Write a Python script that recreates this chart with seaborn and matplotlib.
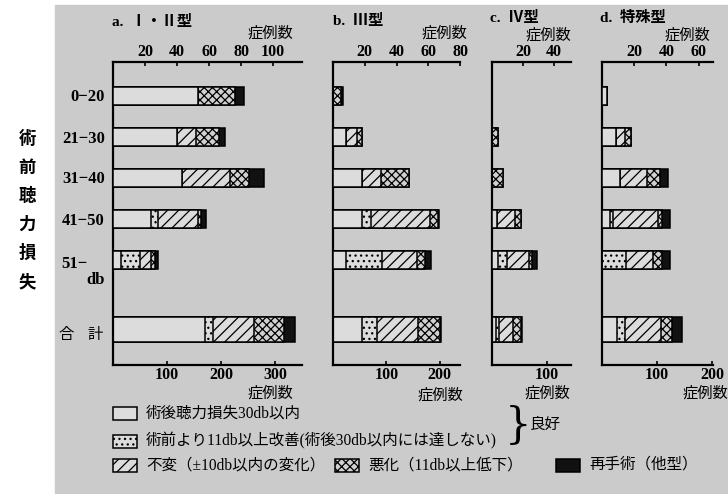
import matplotlib
matplotlib.use("Agg")
import numpy as np
import pandas as pd
import matplotlib.pyplot as plt
from matplotlib.patches import Rectangle
import seaborn as sns

# 術前聴力損失の区分 (上の目盛で描く) と 合計 (下の目盛で描く)
rows = ["0−20", "21−30", "31−40", "41−50", "51−"]
kinds = ["good", "improve", "same", "worse", "reop"]

# a. I・II型
a_good    = [53, 40, 43, 24, 5]
a_improve = [0, 0, 0, 4, 12]
a_same    = [0, 12, 30, 25, 7]
a_worse   = [23, 14, 12, 2, 2]
a_reop    = [6, 4, 9, 3, 2]
a_total   = [170, 15, 76, 56, 20]

# b. III型
b_good    = [0, 8, 18, 18, 8]
b_improve = [0, 0, 0, 6, 23]
b_same    = [0, 7, 12, 37, 22]
b_worse   = [5, 3, 18, 5, 5]
b_reop    = [1, 0, 0, 1, 4]
b_total   = [55, 28, 77, 40, 2]

# c. IV型
c_good    = [0, 0, 0, 3, 4]
c_improve = [0, 0, 0, 0, 6]
c_same    = [0, 0, 0, 12, 14]
c_worse   = [0, 4, 7, 4, 2]
c_reop    = [0, 0, 0, 0, 3]
c_total   = [7, 6, 25, 15, 2]

# d. 特殊型
d_good    = [3, 9, 11, 5, 0]
d_improve = [0, 0, 0, 2, 15]
d_same    = [0, 5, 17, 28, 17]
d_worse   = [0, 4, 8, 2, 5]
d_reop    = [0, 0, 5, 5, 5]
d_total   = [28, 13, 67, 19, 19]

titles = ["a.  Ⅰ・Ⅱ型", "b.  Ⅲ型", "c.  Ⅳ型", "d.  特殊型"]
top_ticks = [[20, 40, 60, 80, 100], [20, 40, 60, 80], [20, 40], [20, 40, 60]]
bottom_ticks = [[100, 200, 300], [100, 200], [100], [100, 200]]

panel_data = [
    ([a_good, a_improve, a_same, a_worse, a_reop], a_total),
    ([b_good, b_improve, b_same, b_worse, b_reop], b_total),
    ([c_good, c_improve, c_same, c_worse, c_reop], c_total),
    ([d_good, d_improve, d_same, d_worse, d_reop], d_total),
]

# ---- layout (pixels) ----
W, H = 728, 494
PAPER = "#cbcbcb"
panel_x = [(113, 302), (333, 460), (492, 571), (602, 713)]
top_lim = [118, 80, 51, 69]
bottom_lim = [350, 238, 144, 202]
AX_TOP, AX_BOT = 62, 365
row_pos = np.arange(len(rows))
total_pos = 5.7
ylim = (6.56, -0.83)

faces = {"good": "#dcdcdc", "improve": "#dcdcdc", "same": "#dcdcdc",
         "worse": "#d0d0d0", "reop": "#111111"}
hatches = {"good": "", "improve": "...", "same": "///", "worse": "xxxx", "reop": ""}

plt.rcParams["font.family"] = ["Liberation Serif", "Noto Sans CJK JP", "DejaVu Sans"]
plt.rcParams["hatch.linewidth"] = 0.9

fig = plt.figure(figsize=(W / 100, H / 100), dpi=100)

# overlay for paper, texts, legend
ov = fig.add_axes([0, 0, 1, 1], zorder=-1)
ov.set_xlim(0, W)
ov.set_ylim(H, 0)
ov.axis("off")
ov.add_patch(Rectangle((55, 5), W - 55, H - 5, color=PAPER, zorder=0))


def stacked(ax, pos, parts, height):
    cum = np.cumsum(np.array(parts, dtype=float), axis=0)
    for k in range(len(kinds) - 1, -1, -1):
        df = pd.DataFrame({"pos": pos, "val": cum[k]})
        sns.barplot(data=df, x="val", y="pos", orient="h", native_scale=True,
                    width=height, ax=ax, color=faces[kinds[k]], saturation=1,
                    hatch=hatches[kinds[k]], edgecolor="black", linewidth=1.1,
                    errorbar=None)


num_font = dict(family="Liberation Serif", weight="bold", size=11.5)

for i, (parts, total) in enumerate(panel_data):
    x0, x1 = panel_x[i]
    ax = fig.add_axes([x0 / W, 1 - AX_BOT / H, (x1 - x0) / W, (AX_BOT - AX_TOP) / H])
    ax.set_facecolor("none")
    axt = ax.twiny()
    axt.set_facecolor("none")

    stacked(axt, row_pos, parts, 0.46)
    stacked(ax, [total_pos], [[v] for v in total], 0.61)

    for a in (ax, axt):
        a.set_ylim(*ylim)
        a.set_yticks([])
        a.set_xlabel("")
        a.set_ylabel("")
        for s in a.spines.values():
            s.set_visible(False)
    ax.set_xlim(0, bottom_lim[i])
    axt.set_xlim(0, top_lim[i])
    ax.spines["left"].set_visible(True)
    ax.spines["bottom"].set_visible(True)
    axt.spines["top"].set_visible(True)
    for s in (ax.spines["left"], ax.spines["bottom"], axt.spines["top"]):
        s.set_linewidth(1.6)

    ax.set_xticks(bottom_ticks[i])
    ax.set_xticklabels([str(t) for t in bottom_ticks[i]], fontdict=num_font)
    ax.tick_params(axis="x", direction="in", length=3, width=1.2, pad=1.5)
    axt.set_xticks(top_ticks[i])
    axt.set_xticklabels([str(t) for t in top_ticks[i]], fontdict=num_font)
    axt.tick_params(axis="x", direction="in", length=3, width=1.2, pad=1.5)

# panel titles and axis names
title_xy = [(112, 22), (333, 21), (490, 18), (600, 18)]
for (tx, ty), t in zip(title_xy, titles):
    ov.text(tx, ty, t, ha="left", va="center", fontsize=11, weight="bold")
top_name = [(293, 33), (467, 33), (571, 35), (710, 35)]
bot_name = [(293, 393), (463, 395), (570, 393), (728, 393)]
for (tx, ty) in top_name + bot_name:
    ov.text(tx, ty, "症例数", ha="right", va="center", fontsize=11,
            family="Noto Sans CJK JP")

# row labels
label_y = [97, 139, 179, 221]
for y, r in zip(label_y, rows[:4]):
    ov.text(105, y, r, ha="right", va="center", fontsize=12, weight="bold")
ov.text(88, 264, rows[4], ha="right", va="center", fontsize=12, weight="bold")
ov.text(105, 280, "db", ha="right", va="center", fontsize=12, weight="bold")
ov.text(58, 334, "合", ha="left", va="center", fontsize=11, family="Noto Sans CJK JP")
ov.text(103, 334, "計", ha="right", va="center", fontsize=11, family="Noto Sans CJK JP")

# vertical title
for j, ch in enumerate("術前聴力損失"):
    ov.text(27, 139 + 28.6 * j, ch, ha="center", va="center", fontsize=12.5,
            weight="bold", family="Noto Sans CJK JP")

# legend
leg_font = dict(fontsize=11.2, va="center", ha="left")
legend_items = [
    ((113, 413), "good", "術後聴力損失30db以内"),
    ((113, 441), "improve", "術前より11db以上改善(術後30db以内には達しない)"),
    ((113, 465), "same", "不変（±10db以内の変化）"),
    ((335, 465), "worse", "悪化（11db以上低下）"),
    ((556, 465), "reop", "再手術（他型）"),
]
for (lx, ly), k, txt in legend_items:
    ov.add_patch(Rectangle((lx, ly - 6.5), 24, 13, facecolor=faces[k], hatch=hatches[k],
                           edgecolor="black", linewidth=1.1, zorder=2))
    ov.text(lx + 33, ly, txt, **leg_font)
ov.text(505, 426, "}", fontsize=30, ha="left", va="center", family="DejaVu Serif",
        weight="light")
ov.text(530, 425, "良好", fontsize=11.2, ha="left", va="center")

fig.savefig("out.png", dpi=100)
